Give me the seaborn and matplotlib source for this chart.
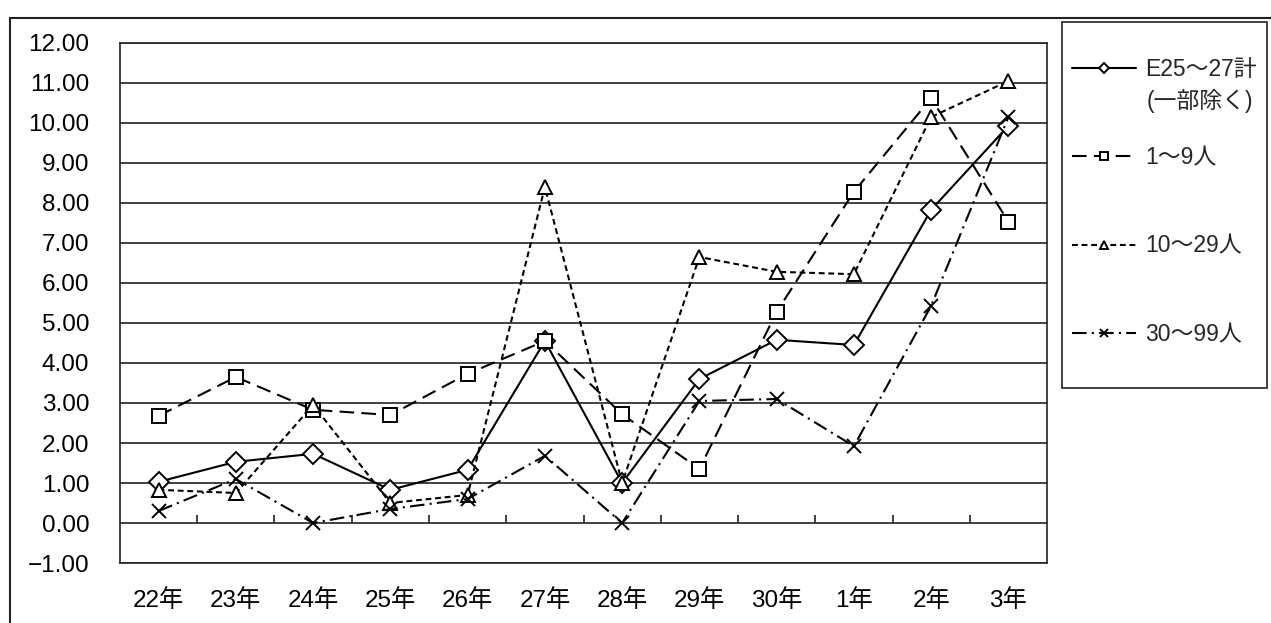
import numpy as np
import matplotlib
matplotlib.use("Agg")
import matplotlib.pyplot as plt
import seaborn as sns
from matplotlib.patches import Rectangle
from matplotlib.ticker import FuncFormatter

sns.set_style("white")
plt.rcParams['font.family'] = ['Liberation Sans', 'Noto Sans CJK JP', 'DejaVu Sans']

# データ
years = ["22年", "23年", "24年", "25年", "26年", "27年", "28年", "29年", "30年", "1年", "2年", "3年"]
e25_27 = [1.03, 1.53, 1.73, 0.83, 1.33, 4.55, 1.00, 3.60, 4.58, 4.45, 7.83, 9.93]
s1_9 = [2.68, 3.65, 2.83, 2.70, 3.73, 4.55, 2.72, 1.35, 5.28, 8.28, 10.62, 7.53]
s10_29 = [0.83, 0.75, 2.95, 0.50, 0.70, 8.40, 1.00, 6.65, 6.28, 6.22, 10.15, 11.05]
s30_99 = [0.30, 1.10, 0.00, 0.35, 0.60, 1.68, 0.00, 3.05, 3.10, 1.92, 5.43, 10.15]
labels = ["E25～27計", "1～9人", "10～29人", "30～99人"]
label_note = "(一部除く)"

x = np.arange(len(years))

fig = plt.figure(figsize=(12.71, 6.23), dpi=100)
ax = fig.add_axes([0.0944, 0.0963, 0.7294, 0.8347])

series = [
    (e25_27, 'D', '-', 10),
    (s1_9, 's', (0, (7, 3.5)), 10),
    (s10_29, '^', (0, (2.8, 1.8)), 9.5),
    (s30_99, 'x', (0, (7, 2.5, 1, 2.5)), 10),
]
for (vals, mk, ls, ms), lab in zip(series, labels):
    sns.lineplot(x=x, y=vals, ax=ax, color='black', linewidth=1.5, linestyle=ls,
                 marker=mk, markersize=ms, markerfacecolor='white',
                 markeredgecolor='black', markeredgewidth=1.4, sort=False, label=lab)

ax.set_xlim(-0.5, len(years) - 0.5)
ax.set_ylim(-1, 12)
ax.set_yticks(np.arange(-1, 13, 1))
ax.yaxis.set_major_formatter(FuncFormatter(lambda v, p: f"{v:.2f}".replace("-", "−")))
ax.set_xticks(x)
ax.set_xticklabels(years)
ax.tick_params(axis='both', length=0, labelsize=17.5, colors='black')
ax.tick_params(axis='y', pad=22)
ax.tick_params(axis='x', pad=19)
ax.grid(axis='y', color='#222222', linewidth=1.2)
ax.grid(axis='x', visible=False)
ax.set_xlabel("")
ax.set_ylabel("")
for sp in ax.spines.values():
    sp.set_color('#222222')
    sp.set_linewidth(1.2)
    sp.set_visible(True)

# 0.00 の線上の目盛り
sec = ax.secondary_xaxis(1 / 13)
sec.set_xticks(np.arange(0.5, len(years) - 1, 1))
sec.set_xticklabels([])
sec.tick_params(direction='in', length=6, width=1.2, color='#222222')
sec.spines['bottom'].set_visible(False)

# 凡例
leg = ax.legend(loc='upper left', bbox_to_anchor=(1072 / 1271, 1 - 58 / 623), bbox_transform=fig.transFigure,
                borderaxespad=0, frameon=False, fontsize=16.5, handlelength=2.8, markerscale=0.55,
                handletextpad=0.4, labelspacing=2.85, borderpad=0)
fig.text(1147 / 1271, 1 - 101 / 623, label_note, fontsize=16.5, va='center', ha='left')
fig.patches.append(Rectangle((1062 / 1271, 1 - 388 / 623), 205 / 1271, 366 / 623, transform=fig.transFigure,
                             fill=False, edgecolor='#222222', linewidth=1.2))

fig.patches.append(Rectangle((10 / 1271, -0.05), 1.2, 1.05 - 18 / 623, transform=fig.transFigure,
                             fill=False, edgecolor='#222222', linewidth=1.5))

fig.savefig("out.png", dpi=100)
